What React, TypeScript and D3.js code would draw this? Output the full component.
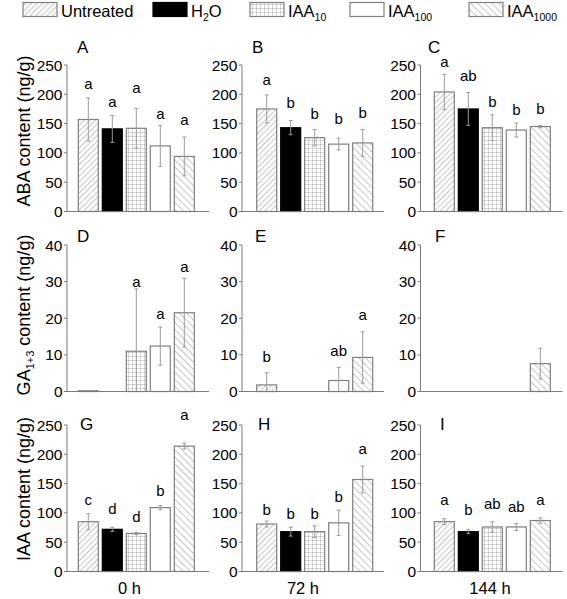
import React from "react";
import * as d3 from "d3";

// ---------- data ----------
const treatments = ["Untreated", "H2O", "IAA10", "IAA100", "IAA1000"];
const times = ["0 h", "72 h", "144 h"];
const panelNames = ["A", "B", "C", "D", "E", "F", "G", "H", "I"];

// ABA content (ng/g), per time point
const abaMeans = [
  [157, 141, 142, 112, 94],
  [175, 143, 126, 115, 117],
  [204, 175, 143, 139, 145],
];
const abaErrs = [
  [37, 23, 34, 35, 33],
  [24, 12, 14, 10, 23],
  [30, 28, 22, 12, 2],
];
const abaLetters = [
  ["a", "a", "a", "a", "a"],
  ["a", "b", "b", "b", "b"],
  ["a", "ab", "b", "b", "b"],
];
const abaLetterAt = [
  [218, 188, 212, 166, 156],
  [224, 185, 167, 158, 169],
  [256, 232, 188, 174, 176],
];

// GA1+3 content (ng/g); null = not detected
const gaMeans: (number | null)[][] = [
  [0.2, null, 11, 12.4, 21.5],
  [1.8, null, null, 3.0, 9.3],
  [null, null, null, null, 7.6],
];
const gaErrs = [
  [0, 0, 17, 5.2, 9.4],
  [3.3, 0, 0, 3.6, 7],
  [0, 0, 0, 0, 4.2],
];
const gaLetters = [
  ["", "", "a", "a", "a"],
  ["b", "", "", "ab", "a"],
  ["", "", "", "", ""],
];
const gaLetterAt = [
  [0, 0, 30, 21.3, 34],
  [9.6, 0, 0, 11, 21],
  [0, 0, 0, 0, 0],
];

// IAA content (ng/g)
const iaaMeans = [
  [85, 72, 65, 109, 214],
  [81, 68, 68, 83, 157],
  [85, 68, 76, 76, 87],
];
const iaaErrs = [
  [13.6, 3.5, 2, 3.5, 5],
  [5, 7.5, 10, 21.5, 23],
  [5, 3.4, 9, 6, 4.5],
];
const iaaLetters = [
  ["c", "d", "d", "b", "a"],
  ["b", "b", "b", "b", "a"],
  ["a", "b", "ab", "ab", "a"],
];
const iaaLetterAt = [
  [122, 107, 94, 137.5, 268],
  [106, 99.4, 99.4, 127, 210],
  [123, 105, 115, 111, 123],
];

const abaTicks = [0, 50, 100, 150, 200, 250];
const gaTicks = [0, 10, 20, 30, 40];
const iaaTicks = [0, 50, 100, 150, 200, 250];

// ---------- layout & style ----------
const W = 567;
const H = 599;
const FONT = "'Liberation Sans', Arial, Helvetica, sans-serif";
const colAxisX = [67, 242, 420.5];
const colBarStart = [78.3, 256.7, 434.3];
const rowTop = [65, 245, 425];
const plotH = 146.5;
const plotW = 142;
const barSpan = 116;
const panelLetterX = [
  [77, 252, 428],
  [77, 255, 435],
  [80, 258, 440],
];
const panelLetterY = [52.5, 241.5, 430];
const timeLabelX = [129.5, 303, 490];
const yLabelCY = [131, 315, 489];
const AXIS = "#7a7a7a";
const EDGE = "#7f7f7f";
const ERR = "#9a9a9a";

const fills = [
  "url(#pUntreated)",
  "#000",
  "url(#pGrid)",
  "#fff",
  "url(#pBack)",
];
const strokes = [EDGE, "#000", EDGE, EDGE, EDGE];

const legendX = [23, 153, 250, 350, 469];
const legendParts: [string, string, string][] = [
  ["Untreated", "", ""],
  ["H", "2", "O"],
  ["IAA", "10", ""],
  ["IAA", "100", ""],
  ["IAA", "1000", ""],
];

type PanelProps = {
  row: number;
  col: number;
  means: (number | null)[];
  errs: number[];
  letters: string[];
  letterAt: number[];
  ticks: number[];
};

function Panel({ row, col, means, errs, letters, letterAt, ticks }: PanelProps) {
  const x0 = colAxisX[col];
  const top = rowTop[row];
  const bottom = top + plotH;
  const yMax = ticks[ticks.length - 1];
  const y = d3.scaleLinear().domain([0, yMax]).range([bottom, top]);
  const x = d3
    .scaleBand<string>()
    .domain(treatments)
    .range([colBarStart[col], colBarStart[col] + barSpan])
    .paddingInner(1 / 6)
    .paddingOuter(0);
  const bw = x.bandwidth();
  return (
    <g>
      {/* bars */}
      {treatments.map((t, i) => {
        const v = means[i];
        if (v === null || v === undefined) return null;
        const yt = y(v);
        return (
          <rect
            key={"b" + i}
            x={x(t)}
            y={yt}
            width={bw}
            height={Math.max(0.5, bottom - yt)}
            fill={fills[i]}
            stroke={strokes[i]}
            strokeWidth={1.2}
          />
        );
      })}
      {/* error bars */}
      {treatments.map((t, i) => {
        const v = means[i];
        const e = errs[i];
        if (v === null || v === undefined || !e) return null;
        const cx = (x(t) as number) + bw / 2;
        const yHi = y(v + e);
        const yLo = y(Math.max(0, v - e));
        return (
          <g key={"e" + i} stroke={ERR} strokeWidth={1}>
            <line x1={cx} x2={cx} y1={yHi} y2={yLo} />
            <line x1={cx - 2} x2={cx + 2} y1={yHi} y2={yHi} />
            {v - e > 0 && <line x1={cx - 2} x2={cx + 2} y1={yLo} y2={yLo} />}
          </g>
        );
      })}
      {/* significance letters */}
      {treatments.map((t, i) =>
        letters[i] ? (
          <text
            key={"l" + i}
            x={(x(t) as number) + bw / 2}
            y={y(letterAt[i])}
            dy="0.35em"
            textAnchor="middle"
            fontSize={15}
            fontFamily={FONT}
          >
            {letters[i]}
          </text>
        ) : null
      )}
      {/* axes */}
      <line x1={x0} x2={x0} y1={top} y2={bottom} stroke={AXIS} strokeWidth={1} />
      <line x1={x0} x2={x0 + plotW} y1={bottom} y2={bottom} stroke={AXIS} strokeWidth={1} />
      {ticks.map((tk) => (
        <g key={"t" + tk}>
          <line x1={x0 - 3} x2={x0} y1={y(tk)} y2={y(tk)} stroke={AXIS} strokeWidth={1} />
          <text
            x={x0 - 4.5}
            y={y(tk)}
            dy="0.36em"
            textAnchor="end"
            fontSize={15.5}
            fontFamily={FONT}
          >
            {tk}
          </text>
        </g>
      ))}
      <text
        x={panelLetterX[row][col]}
        y={panelLetterY[row]}
        fontSize={17}
        fontFamily={FONT}
      >
        {panelNames[row * 3 + col]}
      </text>
    </g>
  );
}

export default function App() {
  const rows = [
    { means: abaMeans, errs: abaErrs, letters: abaLetters, at: abaLetterAt, ticks: abaTicks },
    { means: gaMeans, errs: gaErrs, letters: gaLetters, at: gaLetterAt, ticks: gaTicks },
    { means: iaaMeans, errs: iaaErrs, letters: iaaLetters, at: iaaLetterAt, ticks: iaaTicks },
  ];
  return (
    <svg
      width={W}
      height={H}
      style={{ position: "absolute", left: 0, top: 0, background: "#fff" }}
    >
      <defs>
        <pattern id="pUntreated" width="4" height="4" patternUnits="userSpaceOnUse" patternTransform="rotate(45)">
          <rect width="4" height="4" fill="#fff" />
          <line x1="0" y1="0" x2="0" y2="4" stroke="#808080" strokeWidth="0.9" />
        </pattern>
        <pattern id="pBack" width="5" height="5" patternUnits="userSpaceOnUse" patternTransform="rotate(-45)">
          <rect width="5" height="5" fill="#fff" />
          <line x1="0" y1="0" x2="0" y2="5" stroke="#808080" strokeWidth="0.9" />
        </pattern>
        <pattern id="pGrid" width="4" height="4" patternUnits="userSpaceOnUse">
          <rect width="4" height="4" fill="#fff" />
          <line x1="0" y1="0" x2="4" y2="0" stroke="#959595" strokeWidth="0.8" />
          <line x1="0" y1="0" x2="0" y2="4" stroke="#959595" strokeWidth="0.8" />
        </pattern>
      </defs>

      {/* legend */}
      {legendParts.map((p, i) => (
        <g key={"lg" + i}>
          <rect
            x={legendX[i]}
            y={2.5}
            width={34}
            height={14}
            fill={fills[i]}
            stroke={strokes[i]}
            strokeWidth={1.2}
          />
          <text x={legendX[i] + 38} y={17} fontSize={16.5} fontFamily={FONT}>
            {p[0]}
            {p[1] && (
              <tspan dy={4} fontSize={10.5}>
                {p[1]}
              </tspan>
            )}
            {p[2] && <tspan dy={-4}>{p[2]}</tspan>}
          </text>
        </g>
      ))}

      {rows.map((r, ri) =>
        times.map((_, ci) => (
          <Panel
            key={ri + "-" + ci}
            row={ri}
            col={ci}
            means={r.means[ci]}
            errs={r.errs[ci]}
            letters={r.letters[ci]}
            letterAt={r.at[ci]}
            ticks={r.ticks}
          />
        ))
      )}

      {/* y axis titles */}
      <text
        transform={`translate(29.5,${yLabelCY[0]}) rotate(-90)`}
        textAnchor="middle"
        fontSize={18}
        fontFamily={FONT}
      >
        ABA content (ng/g)
      </text>
      <text
        transform={`translate(29.5,${yLabelCY[1]}) rotate(-90)`}
        textAnchor="middle"
        fontSize={18}
        fontFamily={FONT}
      >
        GA
        <tspan dy={4} fontSize={11}>
          1+3
        </tspan>
        <tspan dy={-4}> content (ng/g)</tspan>
      </text>
      <text
        transform={`translate(29.5,${yLabelCY[2]}) rotate(-90)`}
        textAnchor="middle"
        fontSize={18}
        fontFamily={FONT}
      >
        IAA content (ng/g)
      </text>

      {/* time labels */}
      {times.map((t, i) => (
        <text
          key={"tm" + i}
          x={timeLabelX[i]}
          y={594}
          textAnchor="middle"
          fontSize={16.5}
          fontFamily={FONT}
        >
          {t}
        </text>
      ))}
    </svg>
  );
}
